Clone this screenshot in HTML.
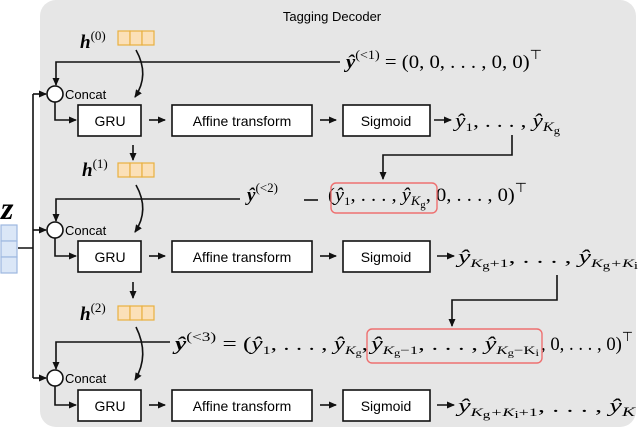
<!DOCTYPE html>
<html><head><style>
body{margin:0;background:#fff;}
.b text,text.b{font-family:"Liberation Sans",sans-serif;font-size:14px;}
.m text{font-family:"Liberation Serif",serif;font-size:19px;}
</style></head><body>
<svg width="640" height="429" viewBox="0 0 640 429" xmlns="http://www.w3.org/2000/svg">
<defs><marker id="a" markerWidth="8" markerHeight="8" refX="7" refY="4" orient="auto" markerUnits="userSpaceOnUse"><path d="M0,0.5 L8,4 L0,7.5 z" fill="#111"/></marker></defs>
<rect x="40" y="0" width="596" height="427" rx="16" fill="#e6e6e6"/>
<text x="332" y="21" text-anchor="middle" class="b" style="font-size:13px">Tagging Decoder</text>
<g stroke="#111" stroke-width="1.6" fill="none">
<path d="M18,248 H33 M33,94 V378"/>
<path d="M33,94 H46" marker-end="url(#a)"/><path d="M33,230 H46" marker-end="url(#a)"/><path d="M33,378 H46" marker-end="url(#a)"/>
<path d="M340,62 H56 V85" marker-end="url(#a)"/>
<path d="M240,199 H56 V221" marker-end="url(#a)"/>
<path d="M170,342 H56 V369" marker-end="url(#a)"/>
<path d="M55,102 V120 H76" marker-end="url(#a)"/>
<path d="M55,238 V256 H76" marker-end="url(#a)"/>
<path d="M55,386 V405 H76" marker-end="url(#a)"/>
<path d="M136,50 Q150,75 135,97" marker-end="url(#a)"/>
<path d="M136,185 Q150,210 135,232" marker-end="url(#a)"/>
<path d="M136,327 Q150,355 135,380" marker-end="url(#a)"/>
<path d="M133,145 V160" marker-end="url(#a)"/>
<path d="M133,282 V298" marker-end="url(#a)"/>
<path d="M149,120 H165" marker-end="url(#a)"/><path d="M320,120 H336" marker-end="url(#a)"/><path d="M434,120 H451" marker-end="url(#a)"/>
<path d="M149,256 H165" marker-end="url(#a)"/><path d="M320,256 H336" marker-end="url(#a)"/><path d="M437,256 H454" marker-end="url(#a)"/>
<path d="M149,405 H165" marker-end="url(#a)"/><path d="M320,405 H336" marker-end="url(#a)"/><path d="M437,405 H454" marker-end="url(#a)"/>
<path d="M512,135 V155 H383 V179" marker-end="url(#a)"/>
<path d="M557,275 V300 H452 V326" marker-end="url(#a)"/>
<path d="M304,200 H318"/>
</g>
<g fill="#fff" stroke="#111" stroke-width="1.6">
<circle cx="55" cy="94" r="8"/><circle cx="55" cy="230" r="8"/><circle cx="55" cy="378" r="8"/>
<rect x="78" y="105" width="63" height="31"/><rect x="172" y="105" width="140" height="31"/><rect x="343" y="105" width="87" height="31"/>
<rect x="78" y="241" width="63" height="31"/><rect x="172" y="241" width="140" height="31"/><rect x="343" y="241" width="87" height="31"/>
<rect x="78" y="390" width="63" height="31"/><rect x="172" y="390" width="140" height="31"/><rect x="343" y="390" width="87" height="31"/>
</g>
<g class="b" text-anchor="middle">
<text x="110" y="126">GRU</text><text x="242" y="126">Affine transform</text><text x="386" y="126">Sigmoid</text>
<text x="110" y="262">GRU</text><text x="242" y="262">Affine transform</text><text x="386" y="262">Sigmoid</text>
<text x="110" y="411">GRU</text><text x="242" y="411">Affine transform</text><text x="386" y="411">Sigmoid</text>
</g>
<g class="b"><text x="65" y="99" style="font-size:13px">Concat</text><text x="65" y="235" style="font-size:13px">Concat</text><text x="65" y="383" style="font-size:13px">Concat</text></g>
<g fill="#fbe0b8" stroke="#e8b040" stroke-width="1.2">
<rect x="118" y="31" width="12" height="14"/><rect x="130" y="31" width="12" height="14"/><rect x="142" y="31" width="12" height="14"/>
<rect x="118" y="163" width="12" height="14"/><rect x="130" y="163" width="12" height="14"/><rect x="142" y="163" width="12" height="14"/>
<rect x="118" y="306" width="12" height="14"/><rect x="130" y="306" width="12" height="14"/><rect x="142" y="306" width="12" height="14"/>
</g>
<g fill="#dbe7f7" stroke="#9db8e0" stroke-width="1.2">
<rect x="1" y="225" width="16" height="16"/><rect x="1" y="241" width="16" height="16"/><rect x="1" y="257" width="16" height="16"/>
</g>
<g class="m">
<text x="1" y="219" style="font-size:32px" font-weight="bold" font-style="italic">z</text>
<text x="80" y="48" font-weight="bold" font-style="italic">h<tspan font-weight="normal" font-style="normal" font-size="13" dy="-8">(0)</tspan></text>
<text x="82" y="176" font-weight="bold" font-style="italic">h<tspan font-weight="normal" font-style="normal" font-size="13" dy="-8">(1)</tspan></text>
<text x="80" y="320" font-weight="bold" font-style="italic">h<tspan font-weight="normal" font-style="normal" font-size="13" dy="-8">(2)</tspan></text>
<text x="346" y="68" textLength="196" lengthAdjust="spacingAndGlyphs"><tspan font-weight="bold" font-style="italic">ŷ</tspan><tspan font-size="13" dy="-9">(&lt;1)</tspan><tspan dy="9"> = (0, 0, . . . , 0, 0)</tspan><tspan font-family="Liberation Sans" font-size="13" dy="-9">⊤</tspan></text>
<text x="455" y="127" font-style="italic" textLength="105" lengthAdjust="spacingAndGlyphs">ŷ<tspan font-style="normal" font-size="12" dy="4">1</tspan><tspan font-style="normal" dy="-4">, . . . , </tspan>ŷ<tspan font-size="13" dy="4">K</tspan><tspan font-size="10" dy="3" font-style="normal">g</tspan></text>
<text x="247" y="201"><tspan font-weight="bold" font-style="italic">ŷ</tspan><tspan font-size="13" dy="-9">(&lt;2)</tspan></text>
<text x="328" y="201" textLength="199" lengthAdjust="spacingAndGlyphs">(<tspan font-style="italic">ŷ</tspan><tspan font-size="12" dy="4">1</tspan><tspan dy="-4">, . . . , </tspan><tspan font-style="italic">ŷ</tspan><tspan font-style="italic" font-size="13" dy="4">K</tspan><tspan font-size="10" dy="3">g</tspan><tspan dy="-7">, 0, . . . , 0)</tspan><tspan font-family="Liberation Sans" font-size="13" dy="-9">⊤</tspan></text>
<text x="458" y="263" font-style="italic" textLength="180" lengthAdjust="spacingAndGlyphs">ŷ<tspan font-size="12" dy="4">K</tspan><tspan font-style="normal" font-size="10" dy="2">g</tspan><tspan font-style="normal" font-size="12" dy="-2">+1</tspan><tspan font-style="normal" dy="-4">, . . . , </tspan>ŷ<tspan font-size="12" dy="4">K</tspan><tspan font-style="normal" font-size="10" dy="2">g</tspan><tspan font-size="12" dy="-2">+K</tspan><tspan font-style="normal" font-size="10" dy="2">i</tspan></text>
<text x="175" y="350" textLength="193" lengthAdjust="spacingAndGlyphs"><tspan font-weight="bold" font-style="italic">ŷ</tspan><tspan font-size="13" dy="-9">(&lt;3)</tspan><tspan dy="9"> = (</tspan><tspan font-style="italic">ŷ</tspan><tspan font-size="12" dy="4">1</tspan><tspan dy="-4">, . . . , </tspan><tspan font-style="italic">ŷ</tspan><tspan font-style="italic" font-size="12" dy="4">K</tspan><tspan font-size="9" dy="2">g</tspan><tspan dy="-6">,</tspan></text>
<text x="371" y="350" textLength="168" lengthAdjust="spacingAndGlyphs"><tspan font-style="italic">ŷ</tspan><tspan font-style="italic" font-size="12" dy="4">K</tspan><tspan font-size="9" dy="2">g</tspan><tspan font-size="12" dy="-2">−1</tspan><tspan dy="-4">, . . . , </tspan><tspan font-style="italic">ŷ</tspan><tspan font-style="italic" font-size="12" dy="4">K</tspan><tspan font-size="9" dy="2">g</tspan><tspan font-size="12" dy="-2">−K</tspan><tspan font-size="9" dy="2">i</tspan></text>
<text x="541" y="350" textLength="92" lengthAdjust="spacingAndGlyphs">, 0, . . . , 0)<tspan font-family="Liberation Sans" font-size="13" dy="-9">⊤</tspan></text>
<text x="458" y="412" font-style="italic" textLength="177" lengthAdjust="spacingAndGlyphs">ŷ<tspan font-size="12" dy="4">K</tspan><tspan font-style="normal" font-size="10" dy="2">g</tspan><tspan font-size="12" dy="-2">+K</tspan><tspan font-style="normal" font-size="10" dy="2">i</tspan><tspan font-style="normal" font-size="12" dy="-2">+1</tspan><tspan font-style="normal" dy="-4">, . . . , </tspan>ŷ<tspan font-size="13" dy="4">K</tspan></text>
</g>
<g fill="none" stroke="#ee7070" stroke-width="1.4">
<rect x="331" y="183" width="106" height="30" rx="5"/>
<rect x="367" y="329" width="175" height="34" rx="5"/>
</g>
</svg>
</body></html>
